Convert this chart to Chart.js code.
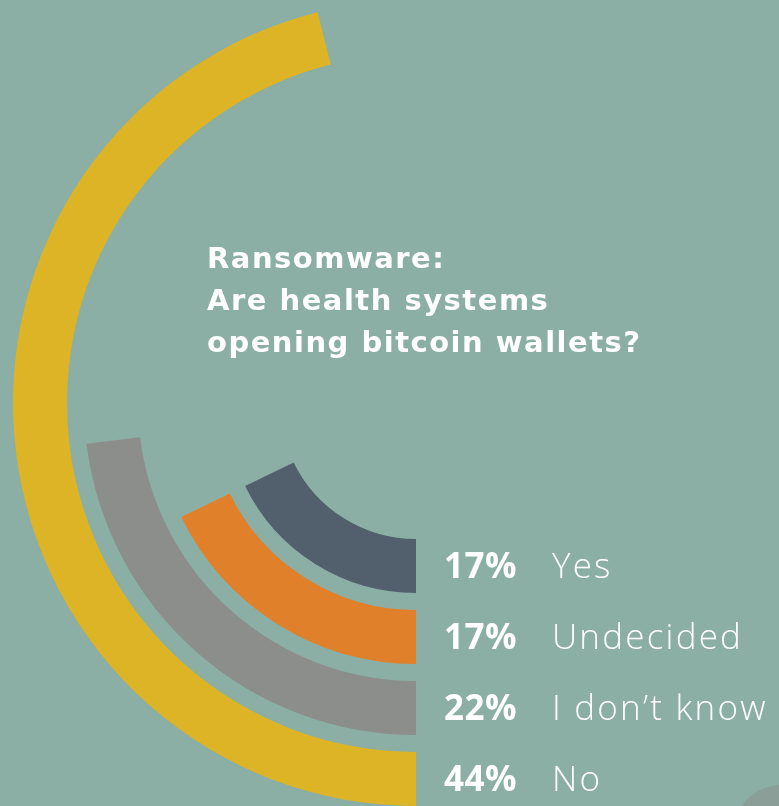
<!DOCTYPE html>
<html>
<head>
<meta charset="utf-8">
<script src="https://cdn.jsdelivr.net/npm/chart.js@4.4.1/dist/chart.umd.min.js"></script>
<style>
  html, body { margin: 0; padding: 0; width: 779px; height: 806px; overflow: hidden; background: #8bafa4; }
  #wrap { position: absolute; left: 13px; top: 0; width: 806px; height: 806px; }
  #wrap canvas { position: absolute; left: 0; top: 0; }
  #title { position: absolute; left: 207px; top: 237px; color: #fff; font-family: "DejaVu Sans", sans-serif; font-weight: 700; font-size: 29px; letter-spacing: 1.5px; line-height: 42px; white-space: nowrap; }
  .lbl { position: absolute; color: #fff; white-space: nowrap; font-size: 35px; line-height: 40px; height: 40px; }
  .num { font-family: "Open Sans", sans-serif; font-weight: 700; letter-spacing: 0.5px; }
  .txt { font-family: "Open Sans", sans-serif; font-weight: 300; letter-spacing: 2.2px; }
  #dot { position: absolute; left: 732px; top: 785px; width: 100px; height: 100px; border-radius: 50%; background: #8c9e98; }
</style>
</head>
<body>
<div id="wrap"><canvas id="c"></canvas></div>
<div id="title">Ransomware:<br>Are health systems<br>opening bitcoin wallets?</div>
<div id="dot"></div>
<script>
// ---- data (innermost ring first) ----
const categories = ['Yes', 'Undecided', 'I don\u2019t know', 'No'];
const values = [17, 17, 22, 44];
const valueLabels = ['17%', '17%', '22%', '44%'];
// one full turn of a ring stands for this many percent (as drawn in the source)
const fullTurn = 95.5;

// ---- styles ----
const ringColors = ['#525f6d', '#e1802a', '#8c8e8c', '#dcb426'];
const ringWeight = 54;
const gapWeight = 17;
const clear = 'rgba(0,0,0,0)';

const datasets = [];
for (let i = categories.length - 1; i >= 0; i--) {
  datasets.push({
    label: categories[i],
    data: [values[i], fullTurn - values[i]],
    backgroundColor: [ringColors[i], clear],
    borderWidth: 0,
    weight: ringWeight
  });
  if (i > 0) {
    datasets.push({ label: 'gap', data: [fullTurn], backgroundColor: [clear], borderWidth: 0, weight: gapWeight });
  }
}

const wrap = document.getElementById('wrap');
const labelEls = categories.map((c, i) => {
  const d = document.createElement('div');
  d.className = 'lbl';
  const n = document.createElement('span'); n.className = 'num'; n.textContent = valueLabels[i];
  n.style.position = 'absolute'; n.style.left = '0px';
  const t = document.createElement('span'); t.className = 'txt'; t.textContent = categories[i];
  t.style.position = 'absolute'; t.style.left = '108px';
  d.appendChild(n); d.appendChild(t);
  wrap.appendChild(d);
  return d;
});

const labelPlugin = {
  id: 'ringLabels',
  afterDraw(chart) {
    categories.forEach((c, i) => {
      const dsIndex = chart.data.datasets.findIndex(ds => ds.label === c);
      const arc = chart.getDatasetMeta(dsIndex).data[0];
      const mid = (arc.innerRadius + arc.outerRadius) / 2;
      const el = labelEls[i];
      el.style.left = (arc.x + 28) + 'px';
      el.style.top = (arc.y + mid - 21) + 'px';
    });
  }
};

new Chart(document.getElementById('c'), {
  type: 'doughnut',
  data: { labels: ['value', 'rest'], datasets },
  options: {
    responsive: true,
    maintainAspectRatio: false,
    animation: false,
    events: [],
    rotation: 180,
    circumference: 360,
    cutout: 136,
    layout: { padding: 0 },
    plugins: { legend: { display: false }, tooltip: { enabled: false }, title: { display: false } }
  },
  plugins: [labelPlugin]
});
</script>
</body>
</html>
